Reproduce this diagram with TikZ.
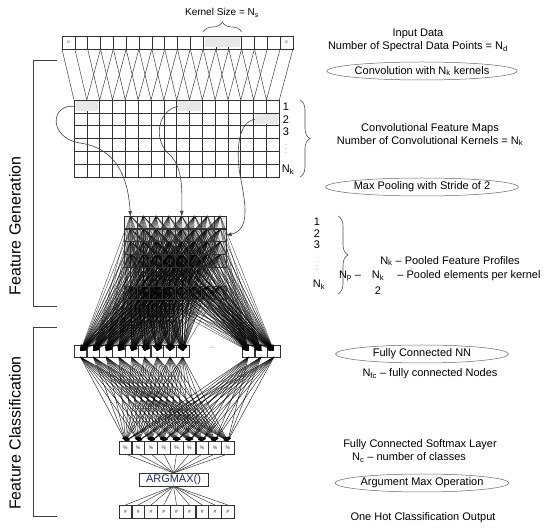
\documentclass[tikz,border=0pt]{standalone}
\usepackage{fontspec}
\setmainfont{Liberation Sans}
\usepackage{tikz}
\usetikzlibrary{calc, arrows.meta, shapes.geometric, fit, decorations.pathreplacing}

\definecolor{inchiostro}{RGB}{35,45,95}
\tikzset{
  cella/.style={draw=black!80, line width=0.6pt, minimum width=12.83pt, minimum height=12.83pt, inner sep=0pt, outer sep=0pt},
  evid/.style={fill=gray!18, inner sep=-1.5pt},
  linea/.style={black!75, line width=0.5pt},
  densa/.style={line width=0.4pt, opacity=0.7, -{Triangle[length=6pt,width=4pt]}},
  densa2/.style={line width=0.5pt, opacity=0.8, -{Triangle[length=4pt,width=3pt]}},
  curva/.style={black!75, line width=0.6pt, -{Triangle[length=5pt,width=3.5pt]}},
  graffa/.style={decorate, decoration={brace, amplitude=#1}, black!70, line width=0.6pt},
  testo/.style={font=\fontsize{11}{13}\selectfont, align=center},
  punti/.style={font=\tiny, inner sep=0pt},
  ellisse/.style={ellipse, draw=black!60, line width=0.5pt, minimum width=173pt, minimum height=18pt, inner sep=0pt, font=\fontsize{11}{13}\selectfont},
  titolo/.style={rotate=90, font=\fontsize{16}{18}\selectfont}
}

\begin{document}
\begin{tikzpicture}[x=1pt, y=-1pt]
  \useasboundingbox (0,0) rectangle (550,529);

  % dati in ingresso
  \foreach \i in {0,...,17}
    \node[cella, minimum height=13pt] (in\i) at ({62+12.83*(\i+0.5)},42.5) {};
  \node[evid, fit=(in11)(in13)] (ker) {};
  \node[font=\tiny] (o1) at (in0) {$\circ$};
  \node[font=\tiny] (o2) at (in17) {$\circ$};

  % dimensione del kernel
  \draw[graffa=10pt] ([yshift=4pt]in11.north west) -- ([yshift=4pt]in13.north east);
  \node[font=\fontsize{10}{12}\selectfont] (tker) at (222,13) {Kernel Size = N\textsubscript{s}};

  % mappe delle caratteristiche
  \foreach \r in {1,...,6}
    \foreach \c in {0,...,15}
      \node[cella] (fm-\r-\c) at ({74+12.83*(\c+0.5)},{100+12.83*(\r-0.5)}) {};
  \node[evid, fit=(fm-1-0)(fm-1-1)] (k1) {};
  \node[evid, fit=(fm-1-8)(fm-1-9)] (k2) {};
  \node[evid, fit=(fm-2-14)(fm-2-15)] (k3) {};

  % convoluzione
  \draw[linea] (in0.south west) -- (fm-1-0.north west);
  \draw[linea] (in17.south east) -- (fm-1-15.north east);
  \foreach \k [evaluate=\k as \kk using int(\k+2)] in {1,...,15}
    \draw[linea] (in\k.south west) -- (fm-1-\k.north west) -- (in\kk.south west);

  % indici dei kernel
  \node[testo] (r1) at (286,107) {1};
  \node[testo] (r2) at (286,119.5) {2};
  \node[testo] (r3) at (286,132) {3};
  \node[punti] (r4) at (286,146) {$\vdots$};
  \node[testo] (r5) at (288,170) {N\textsubscript{k}};
  \draw[graffa=10pt] (300,100) -- (300,177);

  % strato di pooling
  \foreach \r/\g/\y in {1/15/222.4, 2/25/235.2, 3/32/248.1, 4/38/260.9, 5/42/293}
    \foreach \c in {0,...,7}
      \node[cella, fill=gray!\g] (p-\r-\c) at ({124+12.83*(\c+0.5)},\y) {};

  % strato completamente connesso
  \foreach \i in {0,...,8}
    \node[cella, minimum height=12pt] (fc\i) at ({74+12.8*(\i+0.5)},351) {};
  \foreach \i in {9,10,11}
    \node[cella, minimum height=12pt] (fc\i) at ({242+12.8*(\i-8.5)},351) {};
  \node[font=\tiny] (pp) at (212,348) {\dots};

  % connessioni pooling -> NN
  \foreach \r in {1,...,5}
    \foreach \c in {0,...,7}
      \foreach \j in {0,...,11}
        \draw[densa] (p-\r-\c.north) -- (fc\j.center);
  \foreach \r in {1,...,5}
    \foreach \c in {0,...,7}
      \draw[black!80, line width=0.6pt] (p-\r-\c.north west) rectangle (p-\r-\c.south east);

  % max pooling
  \draw[curva] (k1.west) .. controls (50,103) and (48,138) .. (80,143)
    .. controls (115,148) and (128,175) .. (p-1-0.north);
  \draw[curva] (k2.west) .. controls (158,110) and (152,140) .. (170,155)
    .. controls (183,168) and (182,190) .. (p-1-4.north);
  \draw[curva] (k3.west) .. controls (238,122) and (236,150) .. (240,175)
    .. controls (246,205) and (250,230) .. (p-2-7.east);

  % softmax, argmax e uscita
  \foreach \i in {0,...,8}
    \node[cella, minimum height=13pt, font=\fontsize{5}{5}\selectfont, text=inchiostro] (sm\i) at ({119+12.8*(\i+0.5)},447.5) {\%};
  \node[cella, minimum width=69pt, minimum height=13pt, font=\fontsize{11}{13}\selectfont, text=inchiostro] (am) at (173.5,479.5) {ARGMAX()};
  \foreach \i in {0,...,8}
    \node[cella, minimum height=13pt, font=\fontsize{5}{5}\selectfont, text=inchiostro] (out\i) at ({119+12.8*(\i+0.5)},511.5) {\#};

  \foreach \i in {0,...,11}
    \foreach \j in {0,...,8}
      \draw[densa2] (fc\i.south) -- (sm\j.north);
  \foreach \i in {0,...,8} {
    \draw[linea] (sm\i.south) -- (am.north);
    \draw[linea] (am.south) -- (out\i.north);
  }

  % indici del pooling
  \node[testo] (q1) at (317,222) {1};
  \node[testo] (q2) at (317,233.5) {2};
  \node[testo] (q3) at (317,245) {3};
  \node[punti] (q4) at (317,263) {$\vdots$};
  \node[testo] (q5) at (319,285) {N\textsubscript{k}};
  \draw[graffa=10pt] (338,216) -- (338,294);

  % descrizioni
  \node[testo] (tin) at (418,40.5) {Input Data\\Number of Spectral Data Points = N\textsubscript{d}};
  \node[ellisse] (e1) at (422,71) {Convolution with N\textsubscript{k} kernels};
  \node[testo] (tfm) at (430,134.5) {Convolutional Feature Maps\\Number of Convolutional Kernels = N\textsubscript{k}};
  \node[ellisse] (e2) at (422,187) {Max Pooling with Stride of 2};
  \node[testo] (tpf) at (450,261) {N\textsubscript{k} – Pooled Feature Profiles};
  \node[testo] (tnp) at (350,276) {N\textsubscript{p} –};
  \node[testo] (tfa) at (378,276) {N\textsubscript{k}};
  \node[testo] (tfb) at (378,291) {2};
  \node[testo] (tpe) at (469,276) {– Pooled elements per kernel};
  \node[ellisse] (e3) at (422,354) {Fully Connected NN};
  \node[testo] (tfc) at (430,374) {N\textsubscript{fc} – fully connected Nodes};
  \node[testo] (tsm) at (420,445) {Fully Connected Softmax Layer};
  \node[testo] (tnc) at (409,457.5) {N\textsubscript{c} – number of classes};
  \node[ellisse] (e4) at (422,483) {Argument Max Operation};
  \node[testo] (tout) at (423,518) {One Hot Classification Output};

  % parentesi a sinistra
  \draw[black!75, line width=0.7pt] (57,60) -| (33,306) -- (57,306);
  \node[titolo] (tgen) at (15,226) {Feature Generation};
  \draw[black!75, line width=0.7pt] (57,327) -| (33,516) -- (57,516);
  \node[titolo] (tcla) at (15,433) {Feature Classification};
\end{tikzpicture}
\end{document}
